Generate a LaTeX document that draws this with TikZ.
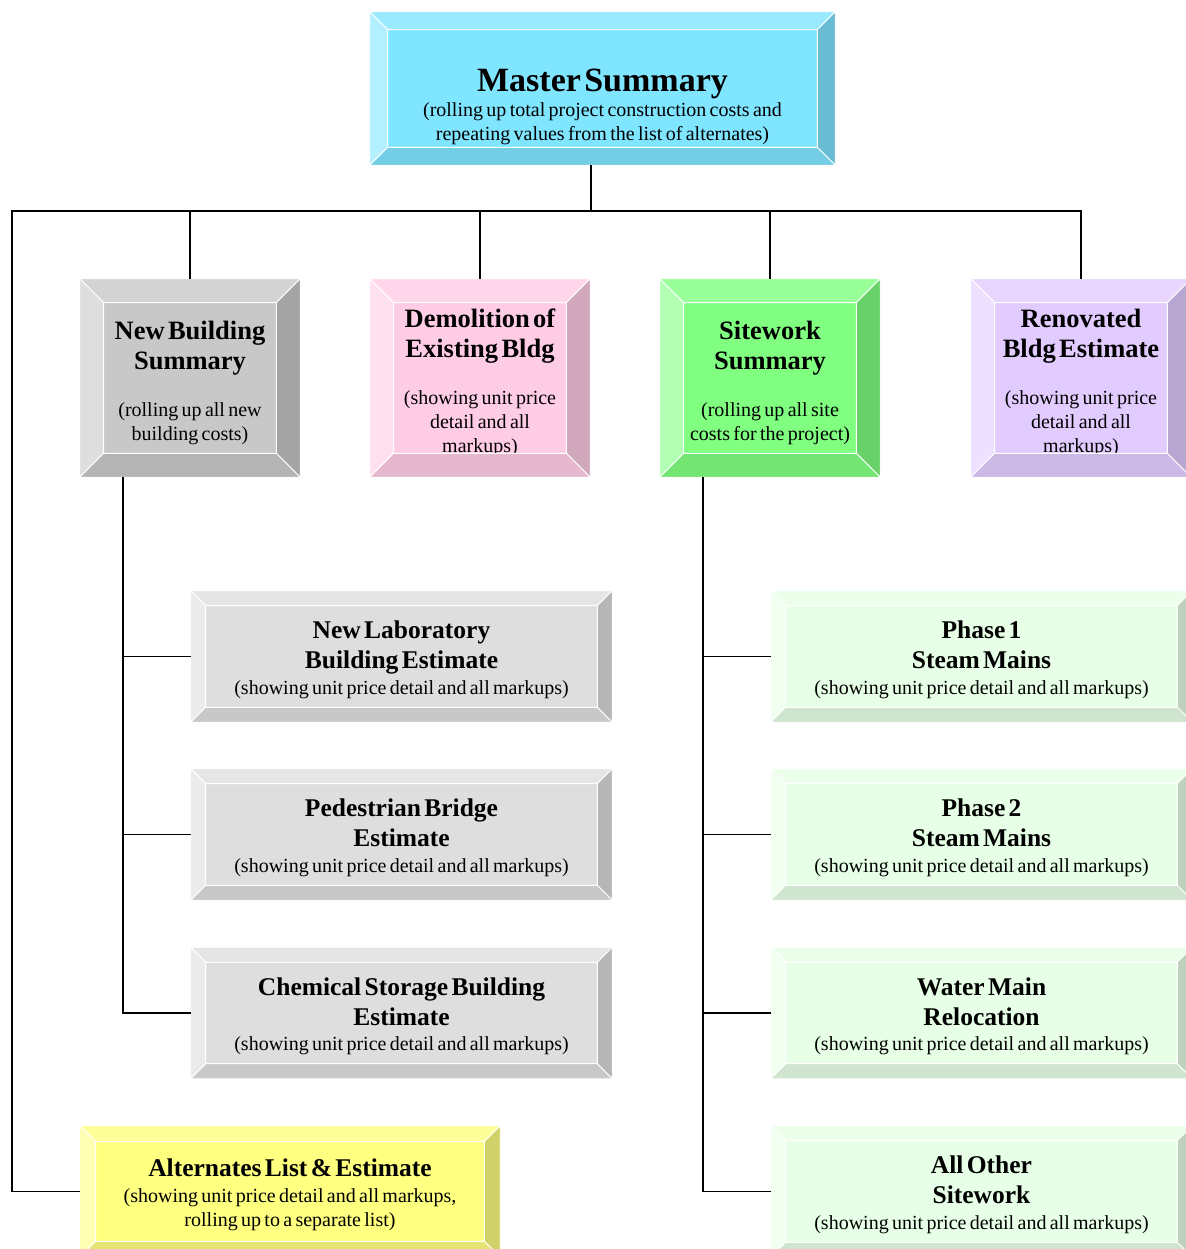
\documentclass[tikz,border=0pt]{standalone}
\usepackage{fontspec}
\setmainfont{Liberation Serif}
\usetikzlibrary{calc}
\definecolor{MasterCyan}{HTML}{80E5FF}
\definecolor{NewBldGrey}{HTML}{C8C8C8}
\definecolor{DemoPink}{HTML}{FFCCE5}
\definecolor{SiteGreen}{HTML}{80FF80}
\definecolor{RenoLilac}{HTML}{E2CCFF}
\definecolor{EstGrey}{HTML}{DEDEDE}
\definecolor{EstGreen}{HTML}{E6FFE6}
\definecolor{AltYellow}{HTML}{FFFF80}
\newcommand{\boxhead}[2][26.5]{{\fontsize{#1}{30}\selectfont\bfseries #2\par}}
\newcommand{\boxnote}[1]{{\fontsize{20}{24}\selectfont #1\par}}

\begin{document}
\begin{tikzpicture}[x=1pt,y=-1pt,
  bevel/.style={inner sep=0pt,align=center},
  tiertwo/.style={bevel,minimum width=220pt,minimum height=198pt,text width=220pt,
    execute at begin node={\rule{0pt}{29pt}}},
  tierthree/.style={bevel,minimum width=421pt,minimum height=131pt,text width=421pt,
    execute at begin node={\rule{0pt}{24pt}}},
  face/.style={draw=white,line width=0.8pt},
  wire/.style={line width=1.6pt}]
  \useasboundingbox (0,0) rectangle (1185,1249);

  \node[bevel,fill=MasterCyan,minimum width=465pt,minimum height=153pt,text width=465pt] (master) at (602.5,88.5)
    {\boxhead[34]{\rule{0pt}{59pt}Master Summary}\vspace{1pt}\boxnote{(rolling up total project construction costs and\\repeating values from the list of alternates)}};

  \node[tiertwo,fill=NewBldGrey] (nbs) at (190,378)
    {\boxhead{New Building\\Summary}\vspace{23pt}\boxnote{(rolling up all new\\building costs)}};
  \node[tiertwo,fill=DemoPink] (demo) at (480,378)
    {\boxhead{Demolition of\\Existing Bldg}\vspace{23pt}\boxnote{(showing unit price\\detail and all\\markups)}};
  \node[tiertwo,fill=SiteGreen] (site) at (770,378)
    {\boxhead{Sitework\\Summary}\vspace{23pt}\boxnote{(rolling up all site\\costs for the project)}};
  \node[tiertwo,fill=RenoLilac] (reno) at (1081,378)
    {\boxhead{Renovated\\Bldg Estimate}\vspace{23pt}\boxnote{(showing unit price\\detail and all\\markups)}};

  \node[tierthree,fill=EstGrey] (lab) at (401.5,656.5)
    {\boxhead[25.5]{New Laboratory\\Building Estimate}\vspace{1.5pt}\boxnote{(showing unit price detail and all markups)}};
  \node[tierthree,fill=EstGrey] (bridge) at (401.5,834.5)
    {\boxhead[25.5]{Pedestrian Bridge\\Estimate}\vspace{1.5pt}\boxnote{(showing unit price detail and all markups)}};
  \node[tierthree,fill=EstGrey] (chem) at (401.5,1013)
    {\boxhead[25.5]{Chemical Storage Building\\Estimate}\vspace{1.5pt}\boxnote{(showing unit price detail and all markups)}};

  \node[tierthree,fill=EstGreen] (ph1) at (981.5,656.5)
    {\boxhead[25.5]{Phase 1\\Steam Mains}\vspace{1.5pt}\boxnote{(showing unit price detail and all markups)}};
  \node[tierthree,fill=EstGreen] (ph2) at (981.5,834.5)
    {\boxhead[25.5]{Phase 2\\Steam Mains}\vspace{1.5pt}\boxnote{(showing unit price detail and all markups)}};
  \node[tierthree,fill=EstGreen] (water) at (981.5,1013)
    {\boxhead[25.5]{Water Main\\Relocation}\vspace{1.5pt}\boxnote{(showing unit price detail and all markups)}};
  \node[tierthree,fill=EstGreen] (other) at (981.5,1191.5)
    {\boxhead[25.5]{All Other\\Sitework}\vspace{1.5pt}\boxnote{(showing unit price detail and all markups)}};

  \node[tierthree,fill=AltYellow,minimum width=420pt,text width=420pt] (alt) at (290,1191.5)
    {\boxhead[25.5]{Alternates List \& Estimate}\vspace{1.5pt}\boxnote{(showing unit price detail and all markups,\\rolling up to a separate list)}};

  \foreach \n/\c/\b in {master/MasterCyan/18, nbs/NewBldGrey/24, demo/DemoPink/24, site/SiteGreen/24,
      reno/RenoLilac/24, lab/EstGrey/15, bridge/EstGrey/15, chem/EstGrey/15, ph1/EstGreen/15,
      ph2/EstGreen/15, water/EstGreen/15, other/EstGreen/15, alt/AltYellow/16}
  {
    \path ($(\n.north west)+(\b,\b)$) coordinate (tl) ($(\n.north east)+(-\b,\b)$) coordinate (tr)
          ($(\n.south east)+(-\b,-\b)$) coordinate (br) ($(\n.south west)+(\b,-\b)$) coordinate (bl);
    \filldraw[face,fill=\c!80!white] (\n.north west) -- (\n.north east) -- (tr) -- (tl) -- cycle;
    \filldraw[face,fill=\c!60!white] (\n.north west) -- (tl) -- (bl) -- (\n.south west) -- cycle;
    \filldraw[face,fill=\c!82!black] (\n.north east) -- (\n.south east) -- (br) -- (tr) -- cycle;
    \filldraw[face,fill=\c!90!black] (\n.south west) -- (bl) -- (br) -- (\n.south east) -- cycle;
    \draw[face] (tl) rectangle (br);
  }

  \coordinate (hub) at (591,211);
  \coordinate (busleft) at (12,211);
  \draw[wire] (hub) -- (hub |- master.south);
  \foreach \n in {nbs,demo,site,reno} \draw[wire] (hub) -| (\n.north);
  \draw[wire] (hub) -- (busleft) |- (alt.west);

  \coordinate (nbsdrop) at ($(nbs.south west)+(43,0)$);
  \foreach \n in {lab,bridge,chem} \draw[wire] (nbsdrop) |- (\n.west);
  \coordinate (sitedrop) at ($(site.south west)+(43,0)$);
  \foreach \n in {ph1,ph2,water,other} \draw[wire] (sitedrop) |- (\n.west);
\end{tikzpicture}
\end{document}
